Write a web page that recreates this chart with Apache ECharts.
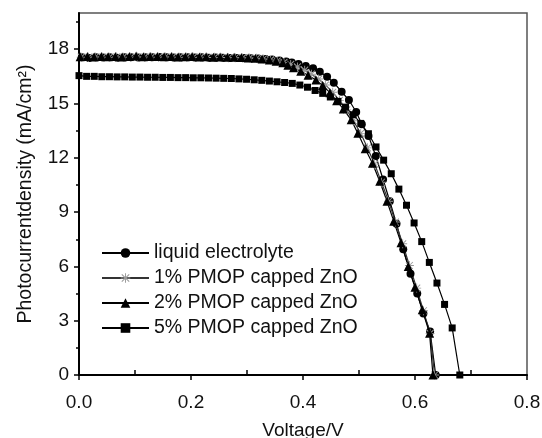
<!DOCTYPE html>
<html>
<head>
<meta charset="utf-8">
<script src="https://cdn.jsdelivr.net/npm/echarts@6/dist/echarts.min.js"></script>
<style>html,body{margin:0;padding:0;background:#fff}#c{width:542px;height:438px}</style>
</head>
<body>
<div id="c"></div>
<script>
const xTicks = [0, 0.2, 0.4, 0.6, 0.8];
const xMinorTicks = [0.1, 0.3, 0.5, 0.7];
const yTicks = [0, 3, 6, 9, 12, 15, 18];
const yMinorTicks = [1.5, 4.5, 7.5, 10.5, 13.5, 16.5, 19.5];
const seriesNames = ['liquid electrolyte', '1% PMOP capped ZnO', '2% PMOP capped ZnO', '5% PMOP capped ZnO'];

const liquidV = [0.005,0.018,0.03,0.043,0.055,0.068,0.081,0.093,0.106,0.118,0.131,0.144,0.156,0.169,0.181,0.194,0.207,0.219,0.232,0.244,0.257,0.270,0.282,0.295,0.307,0.320,0.333,0.345,0.358,0.370,0.380,0.392,0.405,0.418,0.430,0.443,0.455,0.469,0.482,0.495,0.505,0.517,0.530,0.543,0.555,0.567,0.579,0.592,0.604,0.615,0.627,0.637];
const liquidJ = [17.55,17.52,17.56,17.54,17.55,17.53,17.56,17.55,17.54,17.56,17.55,17.57,17.55,17.54,17.56,17.55,17.54,17.55,17.53,17.54,17.53,17.52,17.52,17.51,17.5,17.49,17.46,17.43,17.38,17.32,17.26,17.18,17.07,16.95,16.76,16.48,16.15,15.65,15.19,14.53,13.85,13.2,12.1,10.8,9.6,8.35,6.95,5.6,4.5,3.4,2.4,0];

const p1V = [0.004,0.017,0.029,0.042,0.054,0.067,0.079,0.092,0.104,0.117,0.129,0.142,0.154,0.167,0.179,0.192,0.204,0.217,0.229,0.242,0.254,0.267,0.279,0.292,0.304,0.317,0.329,0.342,0.354,0.366,0.378,0.39,0.403,0.415,0.428,0.44,0.453,0.465,0.478,0.49,0.503,0.515,0.528,0.54,0.553,0.565,0.578,0.59,0.603,0.615,0.627,0.635];
const p1J = [17.56,17.55,17.57,17.56,17.55,17.57,17.56,17.55,17.57,17.56,17.56,17.55,17.57,17.56,17.55,17.56,17.55,17.56,17.54,17.55,17.54,17.53,17.53,17.52,17.51,17.5,17.46,17.41,17.35,17.27,17.16,17.02,16.84,16.62,16.35,16.02,15.62,15.17,14.65,14.05,13.35,12.55,11.65,10.65,9.6,8.45,7.25,6.05,4.8,3.55,2.3,0];

const p2V = [0.002,0.015,0.027,0.04,0.052,0.065,0.077,0.09,0.102,0.115,0.127,0.14,0.152,0.165,0.177,0.19,0.202,0.215,0.227,0.24,0.252,0.265,0.277,0.29,0.302,0.315,0.327,0.340,0.352,0.364,0.373,0.383,0.396,0.409,0.423,0.435,0.448,0.460,0.472,0.486,0.498,0.511,0.524,0.537,0.550,0.562,0.575,0.588,0.600,0.613,0.626,0.632];
const p2J = [17.58,17.6,17.57,17.6,17.58,17.6,17.57,17.6,17.62,17.58,17.6,17.6,17.58,17.6,17.57,17.58,17.6,17.57,17.58,17.56,17.57,17.55,17.55,17.54,17.52,17.5,17.46,17.41,17.34,17.25,17.12,16.98,16.78,16.56,16.3,16.0,15.6,15.15,14.7,14.1,13.35,12.5,11.7,10.7,9.6,8.5,7.3,6.0,4.85,3.6,2.3,0];

const p5V = [0,0.0136,0.0272,0.0408,0.0544,0.068,0.0816,0.0952,0.1088,0.1224,0.136,0.1496,0.1632,0.1768,0.1904,0.204,0.2176,0.2312,0.2448,0.2584,0.272,0.2856,0.2992,0.3128,0.3264,0.34,0.3536,0.3672,0.3808,0.3944,0.408,0.4216,0.4352,0.4488,0.4624,0.476,0.4896,0.5032,0.5168,0.5304,0.544,0.5576,0.5712,0.5848,0.5984,0.612,0.6256,0.6392,0.6528,0.6664,0.68];
const p5J = [16.54,16.5,16.5,16.48,16.48,16.47,16.47,16.46,16.46,16.45,16.45,16.44,16.44,16.43,16.43,16.42,16.42,16.41,16.4,16.39,16.38,16.36,16.34,16.31,16.28,16.24,16.2,16.16,16.11,16.02,15.9,15.72,15.56,15.36,15.12,14.8,14.38,13.9,13.33,12.6,11.87,11.12,10.27,9.38,8.4,7.37,6.22,5.08,3.9,2.6,0];

function zip(a, b) { return a.map((v, i) => [v, b[i]]); }

const asterisk = 'path://M9,0L11,0L11,20L9,20ZM0,9L20,9L20,11L0,11ZM1.5,3L3,1.5L18.5,17L17,18.5ZM17,1.5L18.5,3L3,18.5L1.5,17Z';
const FONT = '"Liberation Sans", Arial, sans-serif';

const chart = echarts.init(document.getElementById('c'), null, {renderer: 'canvas'});

function mkSeries(name, data, symbol, size, symColor, lineColor) {
  return {
    name: name, type: 'line', data: data, symbol: symbol, symbolSize: size,
    showAllSymbol: true,
    lineStyle: {color: lineColor, width: 1.2},
    itemStyle: {color: symColor, borderWidth: 0},
    emphasis: {disabled: true},
    z: 3
  };
}

chart.setOption({
  animation: false,
  backgroundColor: '#fff',
  grid: {left: 79, right: 15, top: 13, bottom: 63, show: true, borderColor: '#555', borderWidth: 1.5,
    backgroundColor: 'transparent', containLabel: false, outerBoundsMode: 'none'},
  legend: {
    orient: 'vertical', left: 96, top: 238, itemWidth: 47, itemHeight: 12, itemGap: 5,
    data: seriesNames,
    textStyle: {fontFamily: FONT, fontSize: 19.5, color: '#111', lineHeight: 20},
    inactiveColor: '#000'
  },
  xAxis: [{
    type: 'value', min: 0, max: 0.8, interval: 0.2,
    name: 'Voltage/V', nameLocation: 'middle', nameGap: 46,
    nameTextStyle: {fontFamily: FONT, fontSize: 19, color: '#111'},
    axisLine: {show: true, lineStyle: {color: '#000', width: 2}},
    axisTick: {show: true, length: 5, lineStyle: {color: '#000', width: 1.5}, customValues: xTicks},
    axisLabel: {fontFamily: FONT, fontSize: 19, color: '#111', margin: 18, customValues: xTicks,
      formatter: v => v.toFixed(1)},
    splitLine: {show: false}
  }, {
    type: 'value', min: 0, max: 0.8, position: 'bottom', gridIndex: 0,
    axisLine: {show: false},
    axisTick: {show: true, inside: true, length: 5, lineStyle: {color: '#000', width: 1.5}, customValues: xMinorTicks},
    axisLabel: {show: false},
    splitLine: {show: false}
  }],
  yAxis: [{
    type: 'value', min: 0, max: 20, interval: 3,
    name: 'Photocurrentdensity (mA/cm²)', nameLocation: 'middle', nameGap: 43,
    nameTextStyle: {fontFamily: FONT, fontSize: 19.5, color: '#111'},
    axisLine: {show: true, lineStyle: {color: '#000', width: 2}},
    axisTick: {show: true, length: 5, lineStyle: {color: '#000', width: 1.5}, customValues: yTicks},
    axisLabel: {fontFamily: FONT, fontSize: 19, color: '#111', margin: 10, customValues: yTicks},
    splitLine: {show: false}
  }, {
    type: 'value', min: 0, max: 20, position: 'left',
    axisLine: {show: false},
    axisTick: {show: true, length: 3, lineStyle: {color: '#000', width: 1.5}, customValues: yMinorTicks},
    axisLabel: {show: false},
    splitLine: {show: false}
  }],
  series: [
    mkSeries(seriesNames[0], zip(liquidV, liquidJ), 'circle', 8, '#000', '#000'),
    mkSeries(seriesNames[1], zip(p1V, p1J), asterisk, 9, '#9a9a9a', '#333'),
    mkSeries(seriesNames[2], zip(p2V, p2J), 'triangle', 9, '#000', '#000'),
    mkSeries(seriesNames[3], zip(p5V, p5J), 'rect', 7, '#000', '#000')
  ]
});
</script>
</body>
</html>
